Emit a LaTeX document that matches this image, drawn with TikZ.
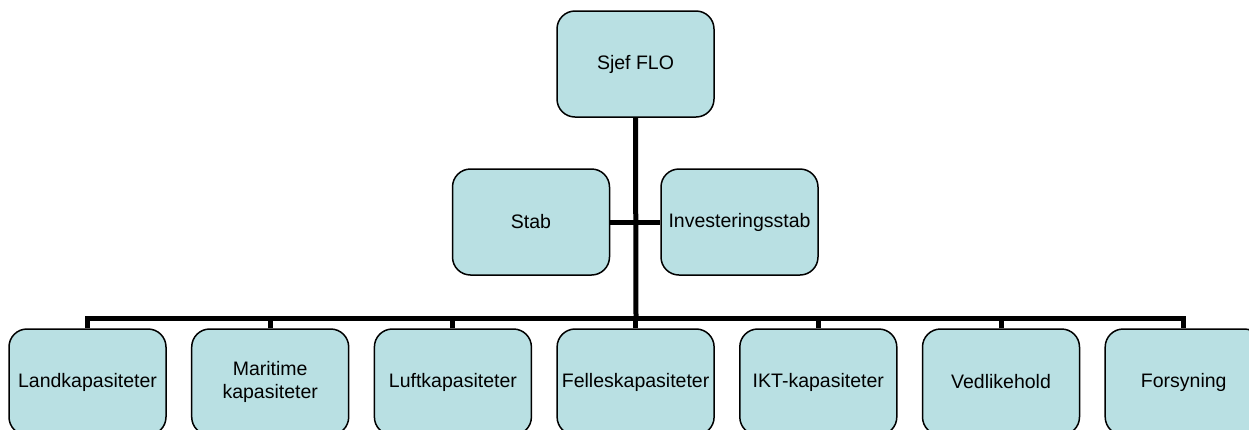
\documentclass[tikz,border=0pt]{standalone}
\usepackage{fontspec}
\setmainfont{Liberation Sans}
\definecolor{boxfill}{RGB}{185,224,227}
\tikzset{
  unit/.style={draw, line width=1.5pt, rounded corners=18pt, fill=boxfill,
    minimum width=157pt, minimum height=106pt, inner sep=0pt, align=center,
    font=\fontsize{19.5}{23}\selectfont},
  link/.style={line width=5pt}
}
\begin{document}
\begin{tikzpicture}[x=1pt,y=-1pt]
  \useasboundingbox (0,0) rectangle (1249,429);
  \clip (0,0) rectangle (1249,429);
  \node[unit] (sjef) at (635.5,64) {Sjef FLO};
  \node[unit] (stab) at (531,222) {Stab};
  \node[unit] (inv) at (739.5,222) {Investeringsstab};
  \coordinate (bar) at (636,318);
  \foreach \i/\name in {1/Landkapasiteter, 2/{Maritime\\kapasiteter}, 3/Luftkapasiteter,
    4/Felleskapasiteter, 5/IKT-kapasiteter, 6/Vedlikehold, 7/Forsyning}
  \node[unit] (b\i) at ({87.5+182.7*(\i-1)},382) {\name};
  \draw[link] (sjef.south) -- (bar);
  \draw[link] (stab.east) -- (inv.west);
  \draw[link] (b1.north) -- (b1.north |- bar) -- (b7.north |- bar) -- (b7.north);
  \foreach \i in {2,...,6}
  \draw[link] (b\i.north) -- (b\i.north |- bar);
\end{tikzpicture}
\end{document}
